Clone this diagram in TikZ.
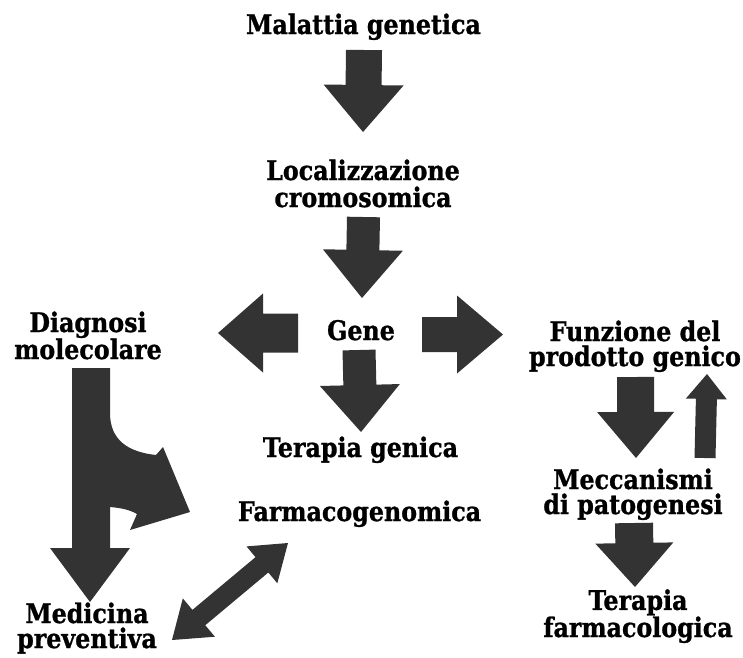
\documentclass[tikz,border=0pt]{standalone}
\usepackage{fontspec}
\setmainfont{DejaVu Serif}[FakeStretch=0.88, BoldFeatures={FakeBold=1}]
\usetikzlibrary{calc}
\tikzset{
  lbl/.style={font=\fontsize{27}{#1}\selectfont\bfseries, align=center, inner sep=0pt, anchor=base, text=black},
  lbl/.default=25,
  arrowfill/.style={fill=black!80, draw=none}
}
\newcommand\blockarrow[5]{%
  \coordinate (bah) at ($(#2)!#5!(#1)$);
  \fill[arrowfill] ($(#1)!#3!90:(#2)$) -- ($(bah)!#3!90:(#2)$) -- ($(bah)!#4!90:(#2)$) -- (#2)
    -- ($(bah)!#4!-90:(#2)$) -- ($(bah)!#3!-90:(#2)$) -- ($(#1)!#3!-90:(#2)$) -- cycle;
}
\begin{document}
\begin{tikzpicture}[x=1pt,y=-1pt]
\useasboundingbox (0,0) rectangle (743,657);
% labels (base anchor = baseline of the last line)
\node[lbl] (mal) at (363.5,34) {Malattia genetica};
\node[lbl=27] (loc) at (363,207) {Localizzazione\\cromosomica};
\node[lbl] (gene) at (361,340) {Gene};
\node[lbl=27] (diag) at (88,359) {Diagnosi\\molecolare};
\node[lbl=25] (fun) at (635,366) {Funzione del\\prodotto genico};
\node[lbl=25] (mec) at (633,514) {Meccanismi\\di patogenesi};
\node[lbl=25] (ter) at (638,637) {Terapia\\farmacologica};
\node[lbl] (tgen) at (360.5,457) {Terapia genica};
\node[lbl] (farm) at (359.5,521) {Farmacogenomica};
\node[lbl=25] (med) at (87,648) {Medicina\\preventiva};
% arrow end points
\coordinate (a1s) at (364,50);   \coordinate (a1e) at (363,132);
\coordinate (a2s) at (363.5,217);\coordinate (a2e) at (362,298);
\coordinate (a3s) at (359,350);  \coordinate (a3e) at (361,432);
\coordinate (a4s) at (298,333);  \coordinate (a4e) at (218,333);
\coordinate (a5s) at (422,334.5);\coordinate (a5e) at (503,334.5);
\coordinate (a6s) at (635.5,377);\coordinate (a6e) at (636,458);
\coordinate (a7s) at (705,458);  \coordinate (a7e) at (707,374);
\coordinate (a8s) at (634,523);  \coordinate (a8e) at (635,587);
\blockarrow{a1s}{a1e}{18pt}{40pt}{47pt}
\blockarrow{a2s}{a2e}{16.5pt}{40pt}{48pt}
\blockarrow{a3s}{a3e}{16.5pt}{40pt}{47pt}
\blockarrow{a4s}{a4e}{19.5pt}{39.5pt}{45pt}
\blockarrow{a5s}{a5e}{17.5pt}{39pt}{46pt}
\blockarrow{a6s}{a6e}{18.5pt}{38.5pt}{46pt}
\blockarrow{a7s}{a7e}{10.5pt}{20.5pt}{25pt}
\blockarrow{a8s}{a8e}{19pt}{39pt}{44pt}
% branched arrow from Diagnosi molecolare
\coordinate (bs) at (91,368);
\coordinate (bt) at (90,602);
\coordinate (bt2) at (190,512);
\fill[arrowfill] (72,368) -- (72,548) -- (50,548) -- (bt) -- (130,548) -- (110,548)
  -- (110,507) .. controls (122,508) and (130,510) .. (137,514) -- (130,530) -- (bt2)
  -- (163,447) -- (156,455) .. controls (128,452) and (110,440) .. (110,413) -- (110,368) -- cycle;
% double arrow
\coordinate (dA) at (172,640);
\coordinate (dB) at (288,543);
\coordinate (hB) at ($(dB)!34pt!(dA)$);
\coordinate (hA) at ($(dA)!35pt!(dB)$);
\fill[arrowfill] (dB) -- ($(hB)!24pt!90:(dB)$) -- ($(hB)!10pt!90:(dB)$) -- ($(hA)!10pt!-90:(dA)$)
  -- ($(hA)!25pt!-90:(dA)$) -- (dA) -- ($(hA)!25pt!90:(dA)$) -- ($(hA)!10pt!90:(dA)$)
  -- ($(hB)!10pt!-90:(dB)$) -- ($(hB)!24pt!-90:(dB)$) -- cycle;
\end{tikzpicture}
\end{document}
